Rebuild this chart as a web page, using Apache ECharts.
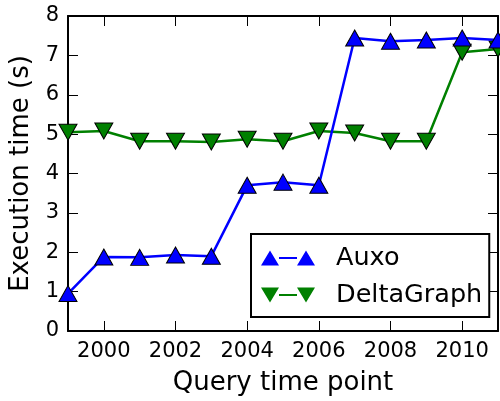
<!DOCTYPE html>
<html><head><meta charset="utf-8">
<script src="https://cdn.jsdelivr.net/npm/echarts@6/dist/echarts.min.js"></script>
<style>html,body{margin:0;padding:0;background:#fff}#c{width:500px;height:401px}</style>
</head><body><div id="c"></div>
<script>
var years = ['1999','2000','2001','2002','2003','2004','2005','2006','2007','2008','2009','2010','2011'];
var auxo = [0.95, 1.88, 1.87, 1.93, 1.90, 3.70, 3.78, 3.70, 7.44, 7.36, 7.39, 7.44, 7.39];
var deltaGraph = [5.05, 5.08, 4.82, 4.82, 4.80, 4.87, 4.82, 5.08, 5.03, 4.82, 4.82, 7.08, 7.16];
var yTicks = {min: 0, max: 8, interval: 1};
var seriesNames = ['Auxo', 'DeltaGraph'];
var FONT = 'DejaVu Sans';
var evenYear = function (i, v) { return (+v) % 2 === 0; };
var upIcon = 'path://M0,15 L9,0 L18,15 Z M36,15 L45,0 L54,15 Z M18,6.5 L36,6.5 L36,8.5 L18,8.5 Z';
var downIcon = 'path://M0,0 L9,15 L18,0 Z M36,0 L45,15 L54,0 Z M18,6.5 L36,6.5 L36,8.5 L18,8.5 Z';
var chart = echarts.init(document.getElementById('c'), null, {renderer: 'canvas'});
var xCommon = {
  type: 'category', data: years, boundaryGap: false,
  axisLine: {onZero: false, lineStyle: {color: '#000', width: 2}},
  axisTick: {inside: true, length: 10, interval: evenYear, lineStyle: {color: '#000', width: 1}},
  splitLine: {show: false}
};
var yCommon = {
  type: 'value', min: yTicks.min, max: yTicks.max, interval: yTicks.interval,
  axisLine: {show: true, onZero: false, lineStyle: {color: '#000', width: 2}},
  axisTick: {show: true, inside: true, length: 10, lineStyle: {color: '#000', width: 1}},
  splitLine: {show: false}
};
chart.setOption({
  animation: false,
  backgroundColor: '#fff',
  grid: {left: 68, right: 2, top: 16, bottom: 70, containLabel: false},
  xAxis: [
    Object.assign({}, xCommon, {position: 'bottom',
      name: 'Query time point', nameLocation: 'middle', nameGap: 39,
      nameTextStyle: {fontFamily: FONT, fontSize: 26, color: '#000'},
      axisLabel: {interval: evenYear, fontFamily: FONT, fontSize: 21, color: '#000', margin: 10}}),
    Object.assign({}, xCommon, {position: 'top', axisLabel: {show: false}})
  ],
  yAxis: [
    Object.assign({}, yCommon, {position: 'left',
      name: 'Execution time (s)', nameLocation: 'middle', nameGap: 9, nameRotate: 90,
      nameTextStyle: {fontFamily: FONT, fontSize: 26, color: '#000'},
      axisLabel: {fontFamily: FONT, fontSize: 21, color: '#000', margin: 9}}),
    Object.assign({}, yCommon, {position: 'right', axisLabel: {show: false}})
  ],
  legend: {
    orient: 'vertical', left: 251, top: 234,
    backgroundColor: '#fff', borderColor: '#000', borderWidth: 2,
    padding: [11, 7, 9, 10], itemGap: 11, itemWidth: 54, itemHeight: 15,
    textStyle: {fontFamily: FONT, fontSize: 25.5, color: '#000', lineHeight: 26, padding: [0, 0, 0, 16]},
    data: [
      {name: seriesNames[0], icon: upIcon, itemStyle: {color: '#0000ff', borderWidth: 0}},
      {name: seriesNames[1], icon: downIcon, itemStyle: {color: '#008000', borderWidth: 0}}
    ]
  },
  series: [
    {name: seriesNames[0], type: 'line', data: auxo, symbol: 'triangle', symbolSize: [18, 16],
     lineStyle: {color: '#0000ff', width: 2.5}, itemStyle: {color: '#0000ff', borderColor: '#000', borderWidth: 1},
     clip: false, z: 3},
    {name: seriesNames[1], type: 'line', data: deltaGraph, symbol: 'triangle', symbolRotate: 180, symbolSize: [18, 16],
     lineStyle: {color: '#008000', width: 2.5}, itemStyle: {color: '#008000', borderColor: '#000', borderWidth: 1},
     clip: false, z: 2}
  ]
});
</script></body></html>
